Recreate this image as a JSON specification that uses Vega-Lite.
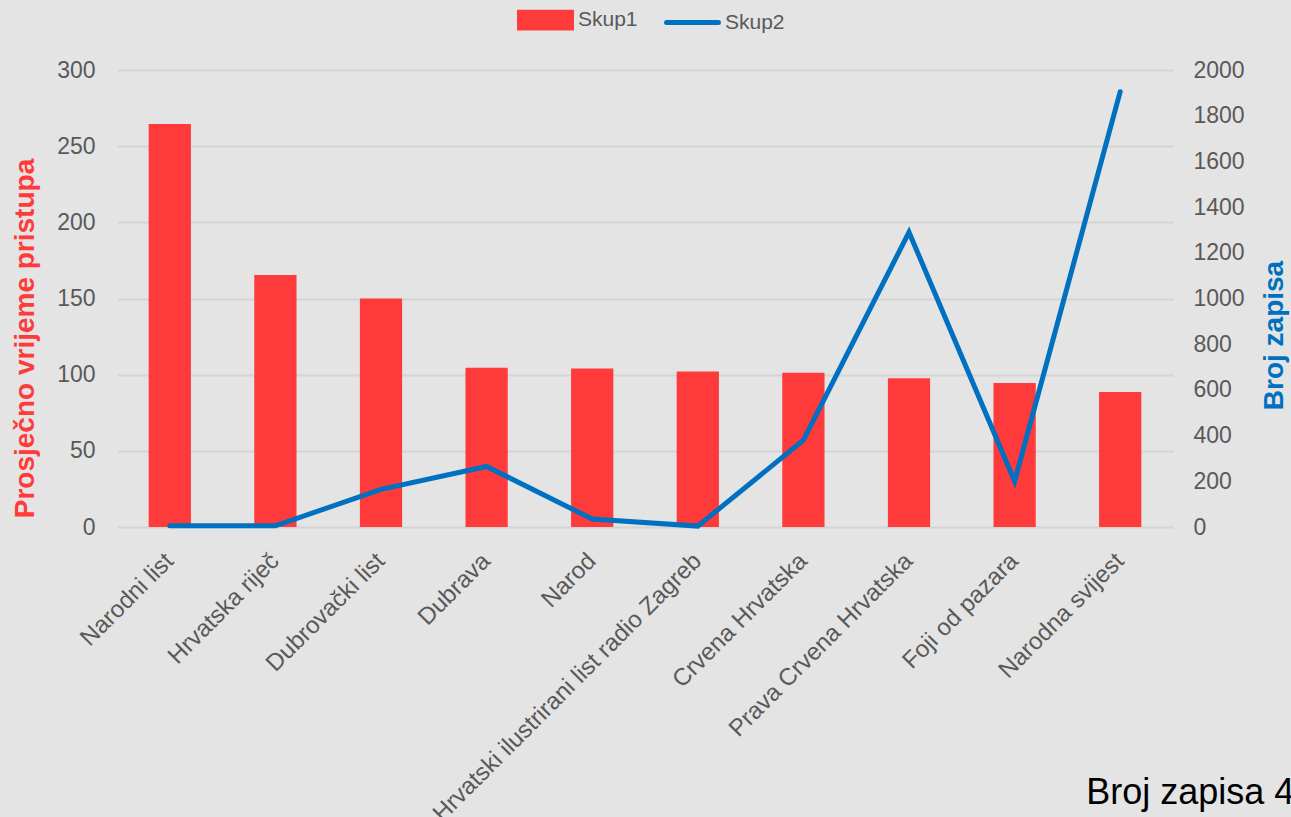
{
  "$schema": "https://vega.github.io/schema/vega-lite/v6.json",
  "autosize": {"type": "none"},
  "padding": {"left": 117, "top": 70, "right": 118, "bottom": 290},
  "width": 1056,
  "height": 457,
  "background": "#e4e4e4",
  "config": {
    "view": {"stroke": null},
    "font": "Liberation Sans",
    "axis": {"labelFont": "Liberation Sans", "titleFont": "Liberation Sans"},
    "legend": {"labelFont": "Liberation Sans"}
  },
  "data": {
    "values": [
      {"naziv": "Narodni list", "vrijeme": 264.5, "zapisi": 5},
      {"naziv": "Hrvatska riječ", "vrijeme": 165.5, "zapisi": 5},
      {"naziv": "Dubrovački list", "vrijeme": 150, "zapisi": 165},
      {"naziv": "Dubrava", "vrijeme": 104.5, "zapisi": 265},
      {"naziv": "Narod", "vrijeme": 104, "zapisi": 35},
      {"naziv": "Hrvatski ilustrirani list radio Zagreb", "vrijeme": 102, "zapisi": 4},
      {"naziv": "Crvena Hrvatska", "vrijeme": 101.2, "zapisi": 380},
      {"naziv": "Prava Crvena Hrvatska", "vrijeme": 97.7, "zapisi": 1290},
      {"naziv": "Foji od pazara", "vrijeme": 94.5, "zapisi": 200},
      {"naziv": "Narodna svijest", "vrijeme": 88.7, "zapisi": 1905}
    ]
  },
  "encoding": {
    "x": {
      "field": "naziv",
      "type": "nominal",
      "sort": null,
      "scale": {"paddingInner": 0.6, "paddingOuter": 0.3},
      "axis": {
        "title": null,
        "labelAngle": -45,
        "labelAlign": "right",
        "labelBaseline": "middle",
        "labelFontSize": 24,
        "labelColor": "#595959",
        "labelPadding": 30,
        "ticks": false,
        "domain": false,
        "labelOverlap": false,
        "labelLimit": 700
      }
    }
  },
  "layer": [
    {
      "layer": [
        {
          "mark": {"type": "bar", "color": "#ff3a3a"},
          "encoding": {
            "y": {
              "field": "vrijeme",
              "type": "quantitative",
              "scale": {"domain": [0, 300], "nice": false},
              "axis": {
                "title": "Prosječno vrijeme pristupa",
                "titleColor": "#ff3a3a",
                "titleFontSize": 28,
                "titleFontWeight": "bold",
                "titleX": -84,
                "titleY": 268,
                "titleAlign": "center",
                "titleBaseline": "alphabetic",
                "titleAngle": 270,
                "values": [0, 50, 100, 150, 200, 250, 300],
                "labelFontSize": 23,
                "labelColor": "#595959",
                "labelPadding": 22,
                "ticks": false,
                "domain": false,
                "grid": true,
                "gridColor": "#d4d4d4",
                "gridWidth": 2
              }
            },
            "color": {
              "datum": "Skup1",
              "type": "nominal",
              "scale": {"domain": ["Skup1", "Skup2"], "range": ["#ff3a3a", "#0070c0"]},
              "legend": {
                "title": null,
                "orient": "none",
                "direction": "horizontal",
                "legendX": 400,
                "legendY": -62,
                "labelFontSize": 21,
                "labelColor": "#595959",
                "symbolSize": 2700,
                "symbolType": "M-1,-0.3H1V0.3H-1Z",
                "columnPadding": 18,
                "labelOffset": 4,
                "encode": {
                  "symbols": {
                    "update": {
                      "shape": {"signal": "datum.value === 'Skup1' ? 'M-1,-0.3H1V0.3H-1Z' : 'M-1,0H1'"},
                      "fill": {"signal": "datum.value === 'Skup1' ? '#ff3a3a' : 'transparent'"},
                      "stroke": {"signal": "datum.value === 'Skup1' ? 'transparent' : '#0070c0'"},
                      "strokeWidth": {"value": 5},
                      "strokeCap": {"value": "round"},
                      "y": {"signal": "datum.value === 'Skup1' ? 12 : 9"}
                    }
                  },
                  "labels": {
                    "update": {
                      "y": {"signal": "datum.value === 'Skup1' ? 12 : 9"},
                      "baseline": {"value": "middle"}
                    }
                  }
                }
              }
            }
          }
        },
        {
          "data": {"values": [{"napomena": "Broj zapisa 4", "kat": "Narodna svijest", "pol": -182}]},
          "mark": {"type": "text", "align": "left", "baseline": "alphabetic", "fontSize": 36, "color": "#000000", "dx": -34},
          "encoding": {
            "x": {"field": "kat", "type": "nominal"},
            "y": {"field": "pol", "type": "quantitative"},
            "text": {"field": "napomena"}
          }
        }
      ]
    },
    {
      "mark": {"type": "line", "strokeWidth": 5, "strokeJoin": "miter", "strokeCap": "round"},
      "encoding": {
        "y": {
          "field": "zapisi",
          "type": "quantitative",
          "scale": {"domain": [0, 2000], "nice": false},
          "axis": {
            "orient": "right",
            "title": "Broj zapisa",
            "titleColor": "#0070c0",
            "titleFontSize": 28,
            "titleFontWeight": "bold",
            "titleX": 109,
            "titleY": 265,
            "titleAlign": "center",
            "titleBaseline": "alphabetic",
            "titleAngle": 270,
            "format": "d",
            "values": [0, 200, 400, 600, 800, 1000, 1200, 1400, 1600, 1800, 2000],
            "labelFontSize": 23,
            "labelColor": "#595959",
            "labelPadding": 20,
            "ticks": false,
            "domain": false,
            "grid": false
          }
        },
        "color": {"datum": "Skup2", "type": "nominal"}
      }
    }
  ],
  "resolve": {"scale": {"y": "independent"}}
}
